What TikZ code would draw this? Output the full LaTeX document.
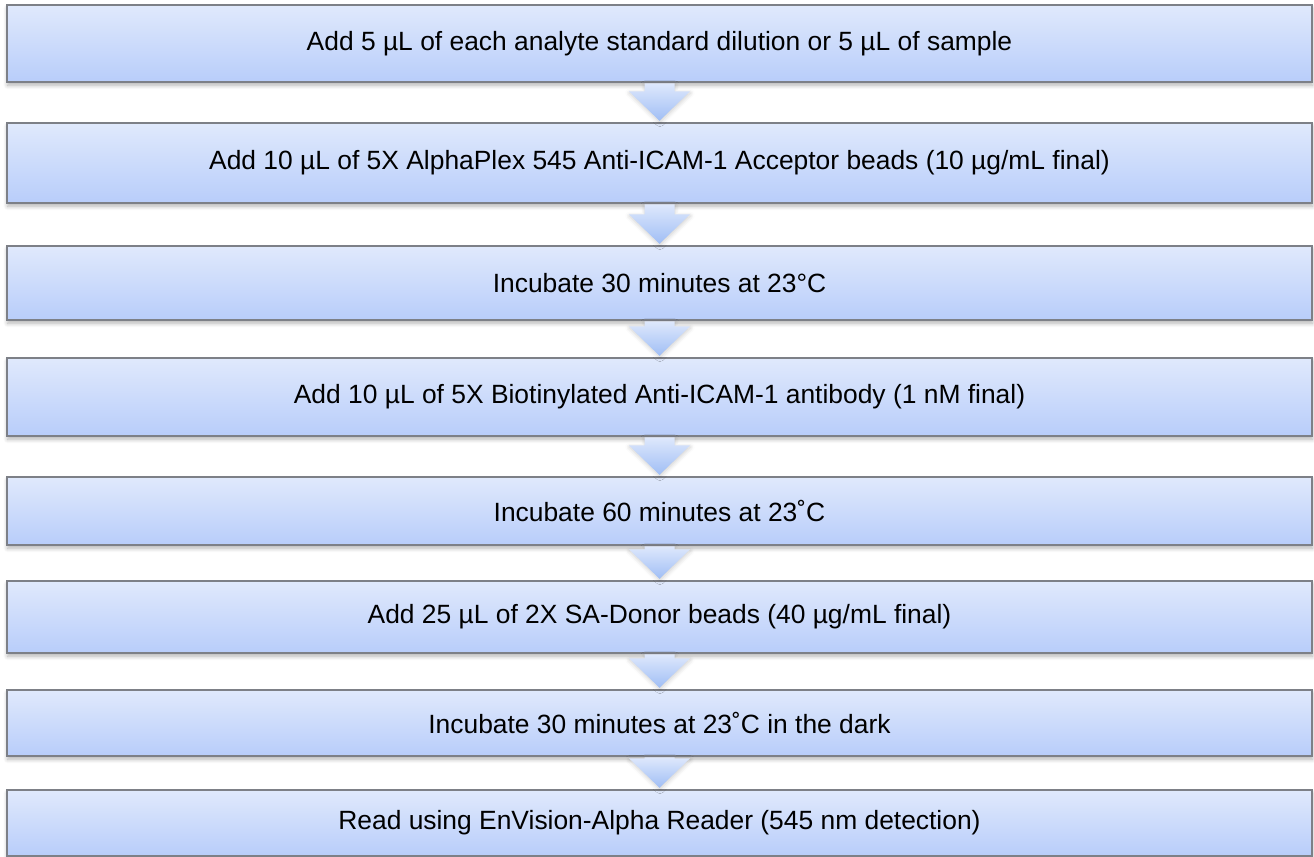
\documentclass[tikz,border=0pt]{standalone}
\usepackage{fontspec}
\setmainfont{Liberation Sans}
\usetikzlibrary{positioning,calc,shadows.blur}
\definecolor{boxtop}{RGB}{224,233,252}
\definecolor{boxbot}{RGB}{184,205,250}
\definecolor{boxline}{RGB}{125,128,135}
\definecolor{arrtop}{RGB}{222,232,252}
\definecolor{arrbot}{RGB}{160,190,245}

\tikzset{
  stepbox/.style={draw=boxline, line width=.7pt, top color=boxtop, bottom color=boxbot,
    minimum width=652.5pt, inner sep=0pt, font=\fontsize{13.2}{15}\selectfont,
    blur shadow={shadow xshift=.3pt, shadow yshift=-1.6pt, shadow blur steps=6, shadow opacity=30}},
  flowarrow/.style={top color=arrtop, bottom color=arrbot,
    blur shadow={shadow xshift=.2pt, shadow yshift=-.8pt, shadow blur steps=4, shadow opacity=20}}
}

\begin{document}
\begin{tikzpicture}[x=.5pt,y=-.5pt]
\useasboundingbox (0,0) rectangle (1314,857);
\node[stepbox,minimum height=38.5pt] (s1) at (659.5,43.5) {Add 5 µL of each analyte standard dilution or 5 µL of sample};
\node[stepbox,minimum height=40pt] (s2) at (659.5,163) {Add 10 µL of 5X AlphaPlex 545 Anti-ICAM-1 Acceptor beads (10 µg/mL final)};
\node[stepbox,minimum height=37pt] (s3) at (659.5,283) {Incubate 30 minutes at 23°C};
\node[stepbox,minimum height=39pt] (s4) at (659.5,397) {Add 10 µL of 5X Biotinylated Anti-ICAM-1 antibody (1 nM final)};
\node[stepbox,minimum height=34pt] (s5) at (659.5,511) {Incubate 60 minutes at 23˚C};
\node[stepbox,minimum height=36pt] (s6) at (659.5,617) {Add 25 µL of 2X SA-Donor beads (40 µg/mL final)};
\node[stepbox,minimum height=33pt] (s7) at (659.5,723) {Incubate 30 minutes at 23˚C in the dark};
\node[stepbox,minimum height=33pt] (s8) at (659.5,823) {Read using EnVision-Alpha Reader (545 nm detection)};
\foreach \a/\b in {s1/s2,s2/s3,s3/s4,s4/s5,s5/s6,s6/s7,s7/s8}
  \path[flowarrow] ($(\a.south)+(-15,.7)$) -- ($(\b.north)+(-15,-31)$) -- ($(\b.north)+(-30.5,-31)$)
    -- ($(\b.north)+(0,-1.5)$) -- ($(\b.north)+(30.5,-31)$) -- ($(\b.north)+(15,-31)$) -- ($(\a.south)+(15,.7)$) -- cycle;
\end{tikzpicture}
\end{document}
